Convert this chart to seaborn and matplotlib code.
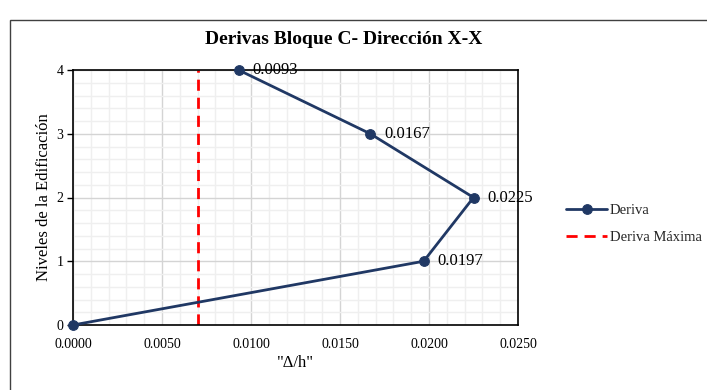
import matplotlib
matplotlib.use("Agg")
import matplotlib.pyplot as plt
import seaborn as sns
import pandas as pd
from matplotlib.patches import Rectangle
from matplotlib.ticker import MultipleLocator, FormatStrFormatter

# Data
deriva = [0.0000, 0.0197, 0.0225, 0.0167, 0.0093]
niveles = [0, 1, 2, 3, 4]
labels = ["", "0.0197", "0.0225", "0.0167", "0.0093"]
deriva_max_x = [0.007, 0.007]
deriva_max_y = [0, 4]

sns.set_theme(style="white")
plt.rcParams['font.family'] = ['Liberation Serif', 'DejaVu Serif']

fig = plt.figure(figsize=(7.07, 3.90), dpi=100)
ax = fig.add_axes([73/707, 1-325/390, (518-73)/707, (325-70)/390])

# outer frame
fig.patches.append(Rectangle((10/707, -0.1), 1.0, 1.1 - 20/390,
                             transform=fig.transFigure, fill=False, lw=1.0, ec="#404040"))

df = pd.DataFrame({"deriva": deriva, "nivel": niveles})
dfm = pd.DataFrame({"x": deriva_max_x, "y": deriva_max_y})

sns.lineplot(data=dfm, x="x", y="y", ax=ax, color="#ff0000", lw=2,
             linestyle=(0, (4, 2.5)), sort=False, estimator=None, label="Deriva Máxima")
sns.lineplot(data=df, x="deriva", y="nivel", ax=ax, color="#203864", lw=2,
             marker="o", markersize=7, markeredgecolor="#203864", sort=False,
             estimator=None, label="Deriva", zorder=5, clip_on=False)

for xv, yv, t in zip(deriva, niveles, labels):
    if t:
        ax.annotate(t, (xv, yv), xytext=(10, 0), textcoords="offset points",
                    va="center", ha="left", fontsize=12, color="black", zorder=6)

ax.set_xlim(0, 0.025)
ax.set_ylim(0, 4)
ax.xaxis.set_major_locator(MultipleLocator(0.005))
ax.xaxis.set_minor_locator(MultipleLocator(0.001))
ax.yaxis.set_major_locator(MultipleLocator(1))
ax.yaxis.set_minor_locator(MultipleLocator(0.2))
ax.xaxis.set_major_formatter(FormatStrFormatter("%.4f"))
ax.grid(which="major", color="#d4d4d4", lw=1)
ax.grid(which="minor", color="#efefef", lw=1)
ax.set_axisbelow(True)
for s in ax.spines.values():
    s.set_color("black")
    s.set_linewidth(1.2)
ax.tick_params(axis="both", which="major", labelsize=10, colors="black",
               length=4, width=1, direction="out", left=True, bottom=False, pad=3)
ax.tick_params(axis="x", which="major", pad=5)
ax.tick_params(which="minor", length=0)

ax.set_xlabel('"Δ/h"', fontsize=12, color="black", labelpad=3)
ax.set_ylabel("Niveles de la Edificación", fontsize=12, color="black", labelpad=3)
fig.text(344/707, 1-40/390, "Derivas Bloque C- Dirección X-X", fontsize=14,
         fontweight="bold", color="black", ha="center", va="center")

h, l = ax.get_legend_handles_labels()
order = [l.index("Deriva"), l.index("Deriva Máxima")]
leg = ax.legend([h[i] for i in order], [l[i] for i in order], loc="center left",
                bbox_to_anchor=(553/707, 1-224/390), bbox_transform=fig.transFigure,
                frameon=False, fontsize=10.5, handlelength=2.8, labelspacing=1.0,
                handletextpad=0.2)

fig.savefig("out.png", dpi=100)
